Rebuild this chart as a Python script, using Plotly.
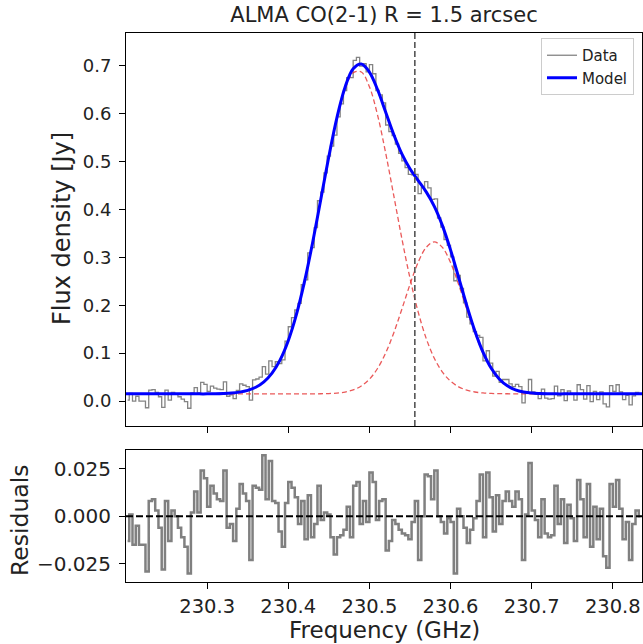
import numpy as np
import plotly.graph_objects as go

# channel grid of the observed spectrum (GHz), 4 MHz channels
chan_start = 230.202
chan_width = 0.004
residuals = [
    -0.013, 0.001, -0.015, -0.005, -0.015, -0.015, -0.029, 0.008, 0.009, 0.003,
    -0.006, -0.028, 0.008, -0.013, 0.003, 0.000, -0.006, -0.011, -0.016, -0.030,
    0.002, 0.013, 0.002, 0.024, 0.020, 0.005, 0.016, 0.012, 0.009, 0.008,
    0.024, -0.006, -0.004, -0.013, 0.004, 0.017, 0.012, 0.008, -0.023, 0.016,
    0.015, 0.014, 0.032, 0.009, 0.029, 0.008, 0.007, -0.008, -0.016, 0.007,
    0.018, 0.015, 0.010, -0.004, 0.008, -0.012, 0.011, -0.011, -0.004, 0.016,
    -0.002, 0.002, 0.001, -0.011, -0.020, -0.011, -0.010, -0.007, 0.005, -0.011,
    0.016, 0.018, -0.004, 0.008, -0.003, 0.023, 0.018, -0.002, 0.008, 0.009,
    -0.018, -0.013, -0.002, -0.004, -0.007, -0.009, -0.010, -0.012, -0.003, 0.008,
    -0.023, 0.000, 0.022, 0.021, 0.009, 0.024, 0.000, -0.003, -0.009, -0.001,
    -0.003, -0.030, 0.004, 0.000, -0.006, -0.014, -0.007, -0.001, 0.008, 0.022,
    -0.011, 0.023, 0.010, -0.008, 0.011, -0.004, 0.008, 0.013, 0.008, 0.005,
    0.013, 0.009, -0.023, 0.001, 0.028, 0.003, -0.002, -0.011, 0.009, -0.009,
    -0.011, -0.010, 0.016, -0.004, 0.009, -0.014, 0.006, -0.001, -0.013, 0.019,
    0.009, -0.011, 0.017, -0.016, 0.005, -0.012, 0.004, -0.021, -0.027, 0.017,
    0.005, 0.019, 0.004, -0.012, -0.003, -0.023, -0.004, 0.003, 0.000,
]
flux = [
    0.002, 0.016, 0.000, 0.010, 0.000, 0.000, -0.014, 0.023, 0.024, 0.018,
    0.009, -0.013, 0.023, 0.002, 0.018, 0.015, 0.009, 0.004, -0.001, -0.015,
    0.017, 0.028, 0.017, 0.039, 0.035, 0.020, 0.031, 0.027, 0.025, 0.024,
    0.040, 0.010, 0.013, 0.005, 0.022, 0.036, 0.033, 0.030, 0.002, 0.044,
    0.046, 0.050, 0.072, 0.056, 0.084, 0.072, 0.082, 0.078, 0.086, 0.125,
    0.155, 0.174, 0.190, 0.204, 0.243, 0.253, 0.309, 0.320, 0.362, 0.418,
    0.436, 0.476, 0.511, 0.532, 0.555, 0.593, 0.620, 0.648, 0.675, 0.675,
    0.711, 0.717, 0.699, 0.704, 0.687, 0.702, 0.683, 0.648, 0.639, 0.622,
    0.576, 0.562, 0.554, 0.536, 0.517, 0.501, 0.487, 0.473, 0.472, 0.473,
    0.433, 0.446, 0.458, 0.445, 0.421, 0.422, 0.382, 0.363, 0.337, 0.325,
    0.301, 0.251, 0.262, 0.235, 0.205, 0.175, 0.161, 0.145, 0.137, 0.133,
    0.084, 0.105, 0.079, 0.052, 0.062, 0.039, 0.045, 0.045, 0.036, 0.030,
    0.035, 0.030, -0.004, 0.019, 0.045, 0.019, 0.014, 0.005, 0.025, 0.006,
    0.004, 0.005, 0.031, 0.011, 0.024, 0.001, 0.021, 0.014, 0.002, 0.034,
    0.024, 0.004, 0.032, -0.001, 0.020, 0.003, 0.019, -0.006, -0.012, 0.032,
    0.020, 0.034, 0.019, 0.003, 0.012, -0.008, 0.011, 0.018, 0.015,
]
freq = chan_start + chan_width * np.arange(len(flux))

# model and its two components, read on a 10 MHz grid
model_freq = np.round(np.arange(230.20, 230.845, 0.01), 2)
model = [0.015] * 10 + [
    0.0150, 0.0153, 0.0158, 0.0167, 0.0186, 0.0222, 0.0288, 0.0401, 0.0583, 0.0860,
    0.1260, 0.1802, 0.2491, 0.3305, 0.4201, 0.5102, 0.5915, 0.6549, 0.6932, 0.7031,
    0.6865, 0.6500, 0.6032, 0.5562, 0.5158, 0.4849, 0.4604, 0.4364, 0.4064, 0.3661,
    0.3154, 0.2579, 0.1995, 0.1461, 0.1020, 0.0688, 0.0460, 0.0317, 0.0233, 0.0188,
    0.0166, 0.0157, 0.0152,
] + [0.015] * 12
comp_blue = [0.015] * 10 + [
    0.0150, 0.0153, 0.0158, 0.0167, 0.0186, 0.0222, 0.0288, 0.0401, 0.0583, 0.0860,
    0.1260, 0.1802, 0.2491, 0.3305, 0.4199, 0.5095, 0.5899, 0.6511, 0.6850, 0.6866,
    0.6559, 0.5971, 0.5181, 0.4290, 0.3391, 0.2567, 0.1865, 0.1308, 0.0894, 0.0605,
    0.0415, 0.0297, 0.0228, 0.0189, 0.0169, 0.0159, 0.0154, 0.0152, 0.0151,
] + [0.015] * 16
comp_red = [0.015] * 24 + [
    0.0152, 0.0157, 0.0166, 0.0188, 0.0232, 0.0315, 0.0456, 0.0679, 0.1001, 0.1422,
    0.1917, 0.2432, 0.2889, 0.3206, 0.3320, 0.3206, 0.2889, 0.2432, 0.1917, 0.1422,
    0.1001, 0.0679, 0.0456, 0.0315, 0.0232, 0.0188, 0.0166, 0.0157, 0.0152,
] + [0.015] * 12

systemic_freq = 230.556
title = "ALMA CO(2-1) R = 1.5 arcsec"

FONT = "DejaVu Sans"
fig = go.Figure()

# top panel
fig.add_trace(go.Scatter(x=freq, y=flux, mode='lines', name='Data',
                         line=dict(color='rgba(110,110,110,0.85)', width=1.3, shape='hvh'),
                         xaxis='x', yaxis='y'))
for comp in (comp_blue, comp_red):
    fig.add_trace(go.Scatter(x=model_freq, y=comp, mode='lines', showlegend=False,
                             line=dict(color='rgba(230,60,60,0.85)', width=1.3,
                                       dash='5px,3px', shape='spline'),
                             xaxis='x', yaxis='y'))
fig.add_trace(go.Scatter(x=model_freq, y=model, mode='lines', name='Model',
                         line=dict(color='#0000ff', width=3, shape='spline'),
                         xaxis='x', yaxis='y'))

# residual panel
fig.add_trace(go.Scatter(x=freq, y=residuals, mode='lines', showlegend=False,
                         line=dict(color='#808080', width=2.5, shape='hvh'),
                         xaxis='x2', yaxis='y2'))

fig.add_shape(type='line', x0=systemic_freq, x1=systemic_freq, y0=0, y1=1,
              xref='x', yref='y domain',
              line=dict(color='#555555', width=1.6, dash='6px,3px'))
fig.add_shape(type='line', x0=0, x1=1, y0=0, y1=0, xref='x2 domain', yref='y2',
              line=dict(color='black', width=2, dash='7px,3px'))

axis_style = dict(showline=True, mirror=True, linecolor='black', linewidth=1,
                  ticks='outside', ticklen=6, tickcolor='black', showgrid=False,
                  zeroline=False)
xticks = [230.3, 230.4, 230.5, 230.6, 230.7, 230.8]
small = dict(family=FONT, size=18, color='#222')
big = dict(family=FONT, size=20, color='#222')

fig.update_layout(
    width=643, height=644,
    margin=dict(l=126, r=1, t=33, b=62),
    paper_bgcolor='white', plot_bgcolor='white',
    font=dict(family=FONT, color='#222'),
    title=dict(text=title, x=0.5, xref='paper', y=1 - 15 / 644, yanchor='middle',
               font=dict(family=FONT, size=21, color='#222')),
    xaxis=dict(domain=[0, 1], anchor='y', range=[230.2, 230.836], tickvals=xticks,
               showticklabels=False, **axis_style),
    yaxis=dict(domain=[0.2842, 1], anchor='x', range=[-0.052, 0.768],
               tickvals=[0, 0.1, 0.2, 0.3, 0.4, 0.5, 0.6, 0.7], tickformat='.1f',
               ticklabelstandoff=4, tickfont=small, **axis_style),
    xaxis2=dict(domain=[0, 1], anchor='y2', matches='x', range=[230.2, 230.836],
                tickvals=xticks, tickformat='.1f',
                tickfont=dict(family=FONT, size=19.5, color='#222'),
                ticklabelstandoff=1, **axis_style),
    yaxis2=dict(domain=[0, 0.2404], anchor='x2', range=[-0.0345, 0.0348],
                tickvals=[-0.025, 0, 0.025], ticktext=['\u22120.025', '0.000', '0.025'],
                ticklabelstandoff=4, tickfont=big, **axis_style),
    legend=dict(x=1 - 8 / 516, y=1 - 5 / 549, xanchor='right', yanchor='top',
                bgcolor='rgba(255,255,255,0.8)', bordercolor='#cccccc', borderwidth=1,
                font=dict(family=FONT, size=15, color='#222'), tracegroupgap=0,
                itemwidth=30),
    showlegend=True,
)

fig.add_annotation(text='Flux density [Jy]', textangle=-90, showarrow=False,
                   xref='paper', yref='paper', x=(62 - 126) / 516, y=(582 - 229) / 549,
                   xanchor='center', yanchor='middle', font=dict(family=FONT, size=24, color='#222'))
fig.add_annotation(text='Residuals', textangle=-90, showarrow=False,
                   xref='paper', yref='paper', x=(20 - 126) / 516, y=(582 - 520) / 549,
                   xanchor='center', yanchor='middle', font=dict(family=FONT, size=23.5, color='#222'))
fig.add_annotation(text='Frequency (GHz)', showarrow=False,
                   xref='paper', yref='paper', x=(384 - 126) / 516, y=(582 - 630) / 549,
                   xanchor='center', yanchor='middle', font=dict(family=FONT, size=23, color='#222'))

# drop the page's default body margin so the figure sits at the window's corner
fig.write_html("out.html", config={'displayModeBar': False},
               post_script="document.body.style.margin='0px';"
                           "document.body.style.overflow='hidden';")
